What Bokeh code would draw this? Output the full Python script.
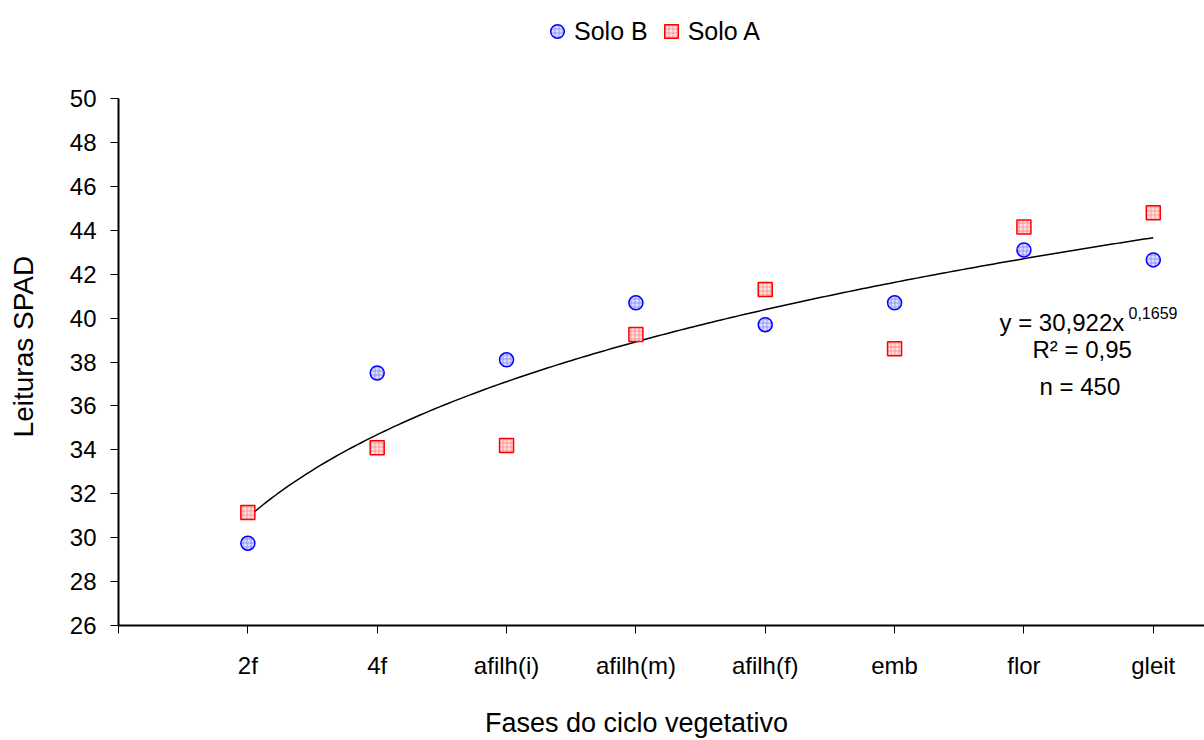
import numpy as np
from bokeh.plotting import figure
from bokeh.layouts import column
from bokeh.models import (FixedTicker, Label, Legend, LegendItem, Range1d, ColumnDataSource,
                          LinearAxis)
from bokeh.embed import file_html
from bokeh.resources import INLINE

categories = ["2f", "4f", "afilh(i)", "afilh(m)", "afilh(f)", "emb", "flor", "gleit"]
positions = [1, 2, 3, 4, 5, 6, 7, 8]
solo_b = [29.75, 37.5, 38.1, 40.7, 39.7, 40.7, 43.1, 42.65]
solo_a = [31.15, 34.1, 34.2, 39.25, 41.3, 38.6, 44.15, 44.8]
fit_a = 30.922
fit_b = 0.1659
y_ticks = [26, 28, 30, 32, 34, 36, 38, 40, 42, 44, 46, 48, 50]
series_names = ["Solo B", "Solo A"]
x_title = "Fases do ciclo vegetativo"
y_title = "Leituras SPAD"

FONT = "Liberation Sans"
B_STYLE = dict(marker="circle", size=14, fill_color="#dcdcff", line_color="#0000ff", line_width=1.5,
               hatch_pattern="+", hatch_color="#6f6fff", hatch_scale=4, hatch_weight=0.6)
A_STYLE = dict(marker="square", size=14, fill_color="#ffdede", line_color="#ff0000", line_width=1.5,
               hatch_pattern="+", hatch_color="#ff6f6f", hatch_scale=4, hatch_weight=0.6)

# ---------- legend strip on top ----------
top = figure(width=1204, height=84, output_backend="svg", toolbar_location=None,
             x_range=Range1d(0, 1204), y_range=Range1d(0, 84),
             x_axis_type=None, y_axis_type=None, min_border=0)
top.outline_line_color = None
top.xgrid.visible = False
top.ygrid.visible = False
# legend carriers: one point each, placed outside the visible range
lb = top.scatter("x", "y", source=ColumnDataSource(dict(x=[-500], y=[-500])), **B_STYLE)
la = top.scatter("x", "y", source=ColumnDataSource(dict(x=[-500], y=[-500])), **A_STYLE)
legend = Legend(items=[LegendItem(label=series_names[0], renderers=[lb]),
                       LegendItem(label=series_names[1], renderers=[la])],
                orientation="horizontal", location=(422, 36),
                label_text_font=FONT, label_text_font_size="25px", label_text_color="black",
                border_line_color=None, background_fill_alpha=0,
                glyph_width=34, glyph_height=34, spacing=6, label_standoff=0,
                padding=0, margin=0)
top.add_layout(legend, "center")

# ---------- main chart ----------
p = figure(width=1204, height=656, output_backend="svg", toolbar_location=None,
           x_range=Range1d(0, 8.396), y_range=Range1d(26, 50),
           min_border_left=118, min_border_right=0, min_border_top=14, min_border_bottom=113)
p.outline_line_color = None
p.xgrid.visible = False
p.ygrid.visible = False

p.xaxis.ticker = FixedTicker(ticks=[0] + positions)
overrides = {0: ""}
overrides.update({pos: c for pos, c in zip(positions, categories)})
p.xaxis.major_label_overrides = overrides
p.yaxis.ticker = FixedTicker(ticks=y_ticks)
for ax in (p.xaxis[0], p.yaxis[0]):
    ax.axis_line_width = 2
    ax.axis_line_color = "black"
    ax.major_tick_line_color = "black"
    ax.major_tick_line_width = 1
    ax.major_tick_out = 8
    ax.major_tick_in = 0
    ax.minor_tick_line_color = None
    ax.major_label_text_font = FONT
    ax.major_label_text_font_size = "24px"
    ax.major_label_text_color = "black"
p.xaxis.major_label_standoff = 18
p.yaxis.major_label_standoff = 14

# axis titles carried by line-less axes so they can sit off the frame centre like the original
title_style = dict(axis_line_color=None, major_tick_line_color=None, minor_tick_line_color=None,
                   major_tick_out=0, major_tick_in=0, major_label_text_font=FONT,
                   major_label_text_color="black")
x_title_axis = LinearAxis(ticker=FixedTicker(ticks=[4.005]), major_label_overrides={4.005: x_title},
                          major_label_standoff=26, major_label_text_font_size="27px", **title_style)
p.add_layout(x_title_axis, "below")
y_title_axis = LinearAxis(ticker=FixedTicker(ticks=[38.7]), major_label_overrides={38.7: y_title},
                          major_label_orientation="vertical",
                          major_label_standoff=27, major_label_text_font_size="28px", **title_style)
p.add_layout(y_title_axis, "left")

# trend line from the fitted power equation
xs = np.linspace(1, 8, 200)
ys = fit_a * xs ** fit_b
p.line(xs, ys, line_color="black", line_width=1.5)

p.scatter("x", "y", source=ColumnDataSource(dict(x=positions, y=solo_b)), **B_STYLE)
p.scatter("x", "y", source=ColumnDataSource(dict(x=positions, y=solo_a)), **A_STYLE)

# equation annotations
lab = dict(x_units="screen", y_units="screen", text_baseline="alphabetic", text_font=FONT,
           text_color="black")
p.add_layout(Label(x=881, y=303, text="y = 30,922x", text_font_size="24px", **lab))
p.add_layout(Label(x=1010, y=313, text="0,1659", text_font_size="16px", **lab))
p.add_layout(Label(x=914, y=276, text="R² = 0,95", text_font_size="24px", **lab))
p.add_layout(Label(x=921, y=239, text="n = 450", text_font_size="24px", **lab))

open("out.html", "w").write(file_html(column(top, p), INLINE))
